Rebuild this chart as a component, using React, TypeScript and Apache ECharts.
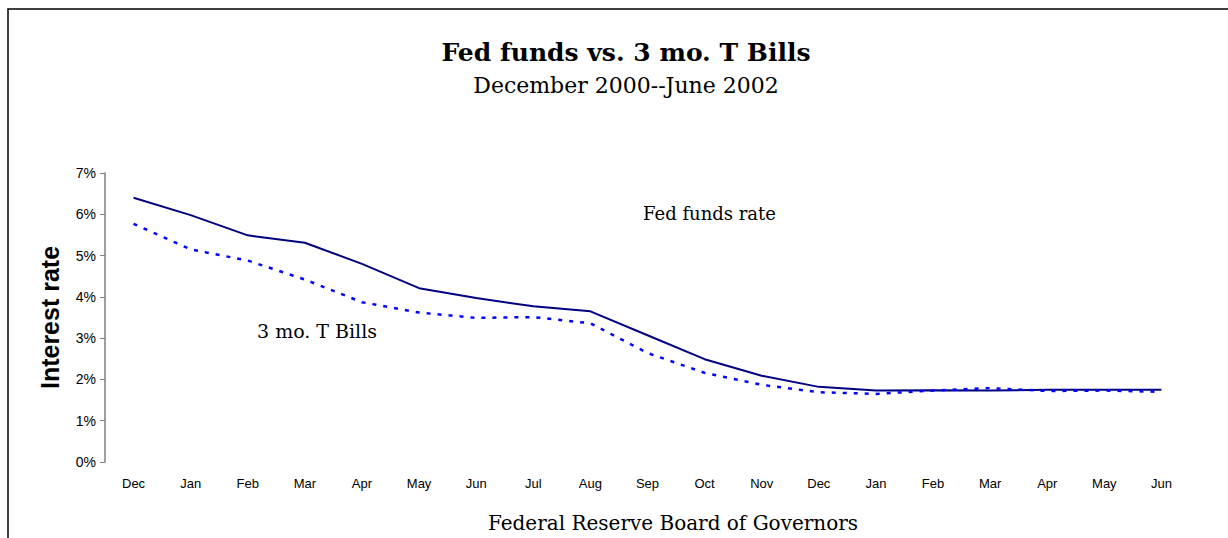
import React, { useEffect, useRef } from "react";
import * as echarts from "echarts";

const months = ["Dec", "Jan", "Feb", "Mar", "Apr", "May", "Jun", "Jul", "Aug", "Sep", "Oct", "Nov", "Dec", "Jan", "Feb", "Mar", "Apr", "May", "Jun"];
const fedFunds = [6.4, 5.98, 5.49, 5.31, 4.8, 4.21, 3.97, 3.77, 3.65, 3.07, 2.49, 2.09, 1.82, 1.73, 1.74, 1.73, 1.75, 1.75, 1.75];
const tBills = [5.77, 5.15, 4.88, 4.42, 3.87, 3.62, 3.49, 3.51, 3.36, 2.64, 2.16, 1.87, 1.69, 1.65, 1.73, 1.79, 1.72, 1.73, 1.7];

const titleText = "Fed funds vs. 3 mo. T Bills";
const subtitleText = "December 2000--June 2002";
const fedLabel = "Fed funds rate";
const billLabel = "3 mo. T Bills";
const sourceText = "Federal Reserve Board of Governors";

const serif = "'DejaVu Serif', serif";
const sans = "'Liberation Sans', Arial, sans-serif";

export default function App() {
  const ref = useRef<HTMLDivElement>(null);
  useEffect(() => {
    if (!ref.current) return;
    const chart = echarts.init(ref.current, null, { renderer: "svg" });
    chart.setOption({
      animation: false,
      backgroundColor: "#ffffff",
      grid: { left: 105, right: 38, top: 173, bottom: 76, containLabel: false },
      xAxis: {
        type: "category",
        data: months,
        boundaryGap: true,
        axisLine: { show: false },
        axisTick: { show: false },
        axisLabel: { color: "#000", fontFamily: sans, fontSize: 13, margin: 15 },
      },
      yAxis: {
        type: "value",
        min: 0,
        max: 7,
        interval: 1,
        name: "Interest rate",
        nameLocation: "middle",
        nameRotate: 90,
        nameGap: 43,
        nameTextStyle: { fontFamily: sans, fontWeight: "bold", fontSize: 25, color: "#000" },
        axisLine: { show: true, lineStyle: { color: "#808080", width: 1.5 } },
        axisTick: { show: true, inside: false, length: 5, lineStyle: { color: "#808080", width: 1 } },
        splitLine: { show: false },
        axisLabel: { color: "#000", fontFamily: sans, fontSize: 14, margin: 9, formatter: (v: number) => v + "%" },
      },
      series: [
        {
          name: "Fed funds rate",
          type: "line",
          data: fedFunds,
          showSymbol: false,
          lineStyle: { color: "#000080", width: 2 },
        },
        {
          name: "3 mo. T Bills",
          type: "line",
          data: tBills,
          showSymbol: false,
          lineStyle: { color: "#0000ff", width: 2.5, type: [4, 7] },
        },
      ],
      graphic: [
        {
          type: "rect",
          shape: { x: 8, y: 9, width: 1400, height: 700 },
          style: { fill: "none", stroke: "#000", lineWidth: 1.5 },
          silent: true,
        },
        {
          type: "text",
          x: 626,
          y: 52,
          style: { text: titleText, font: `bold 25px ${serif}`, fill: "#000", align: "center", verticalAlign: "middle" },
        },
        {
          type: "text",
          x: 626,
          y: 85,
          style: { text: subtitleText, font: `22px ${serif}`, fill: "#000", align: "center", verticalAlign: "middle" },
        },
        {
          type: "text",
          x: 643,
          y: 213,
          style: { text: fedLabel, font: `18px ${serif}`, fill: "#000", align: "left", verticalAlign: "middle" },
        },
        {
          type: "text",
          x: 257,
          y: 331,
          style: { text: billLabel, font: `19px ${serif}`, fill: "#000", align: "left", verticalAlign: "middle" },
        },
        {
          type: "text",
          x: 673,
          y: 523,
          style: { text: sourceText, font: `20px ${serif}`, fill: "#000", align: "center", verticalAlign: "middle" },
        },
      ],
    });
    return () => chart.dispose();
  }, []);
  return <div ref={ref} style={{ position: "absolute", left: 0, top: 0, width: 1228, height: 538 }} />;
}
